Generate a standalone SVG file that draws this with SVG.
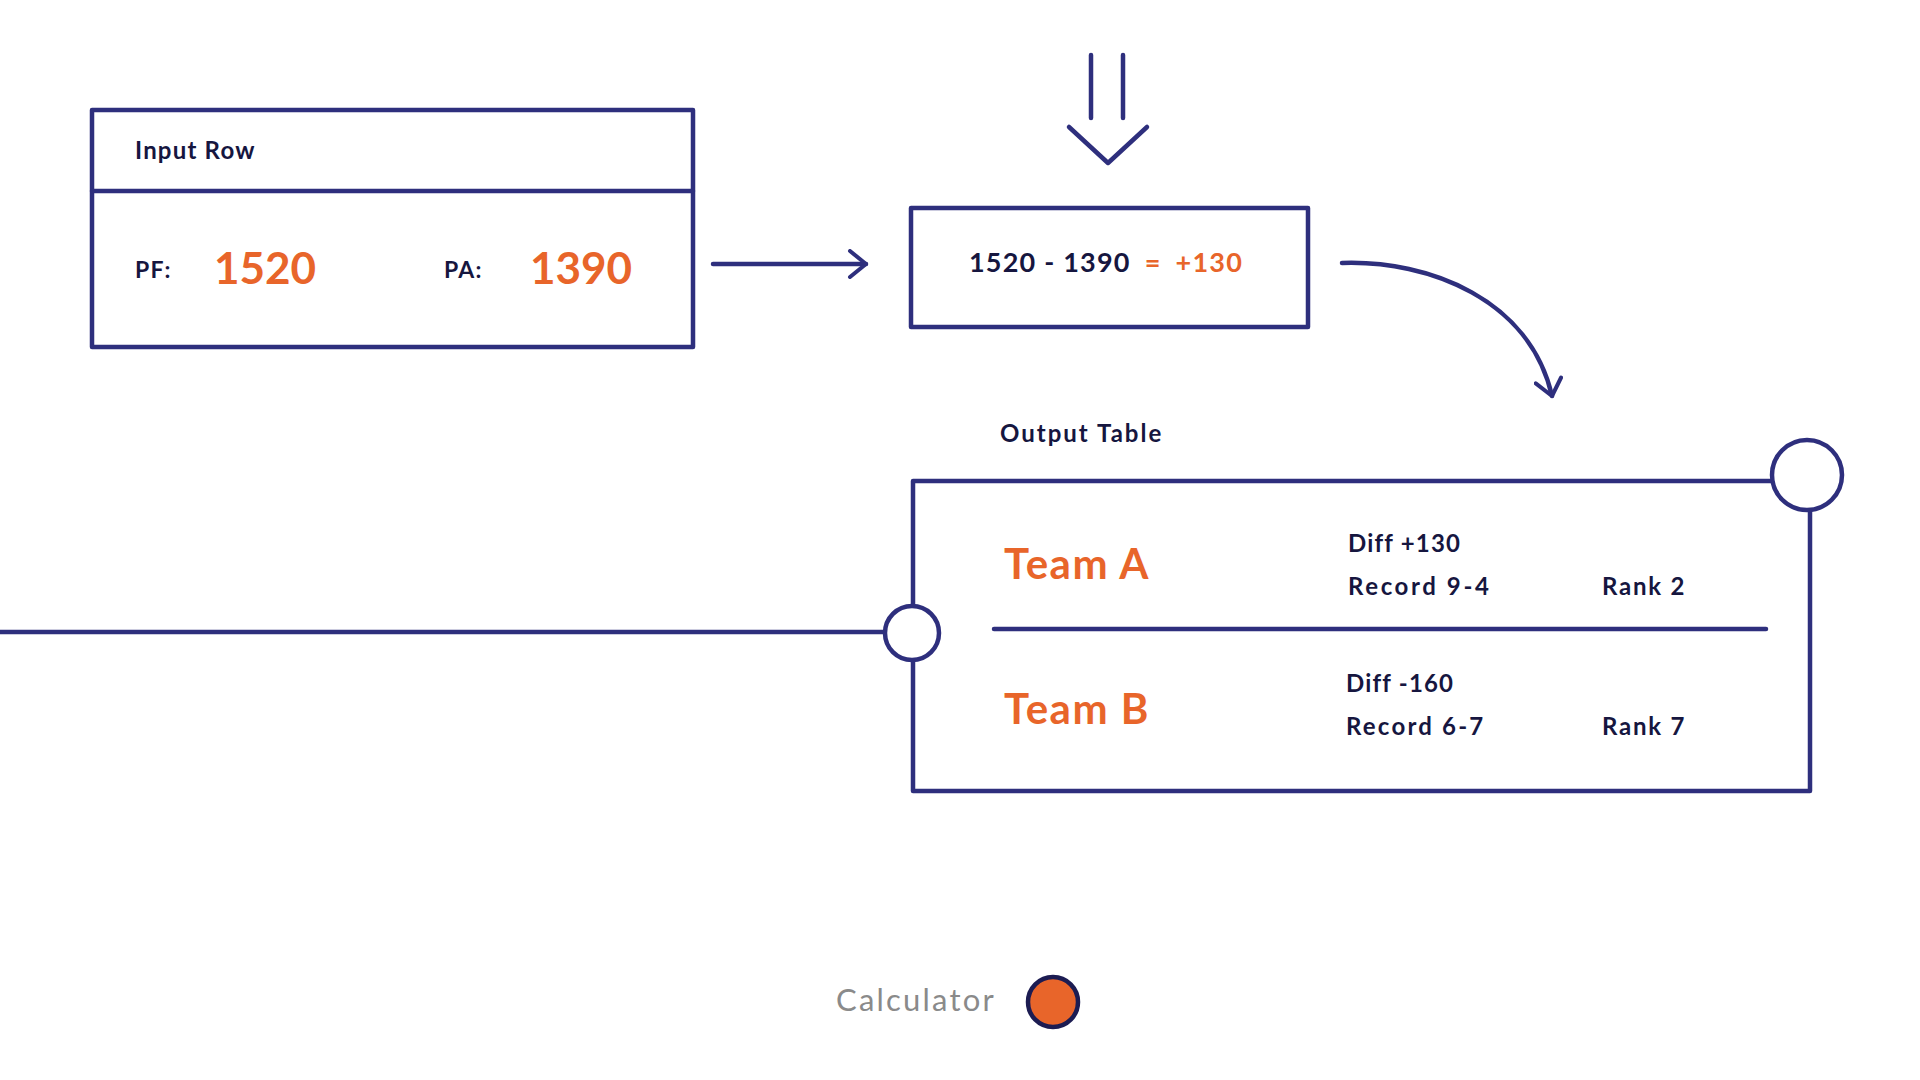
<svg xmlns="http://www.w3.org/2000/svg" width="1920" height="1080" viewBox="0 0 1920 1080">
<style>
.box{fill:none;stroke:#2e2f7d;stroke-width:4.5;stroke-linejoin:round}
.ln{fill:none;stroke:#2e2f7d;stroke-width:4.5;stroke-linecap:round;stroke-linejoin:round}
.t{font-family:Lato,"Noto Sans",sans-serif;font-weight:700;fill:#16163f;letter-spacing:1.2px}
.o{font-family:Lato,"Noto Sans",sans-serif;font-weight:700;fill:#e8652a;letter-spacing:1.5px}
</style>
<defs>
<marker id="chev" viewBox="0 0 24 30" refX="20" refY="15" markerWidth="24" markerHeight="30" markerUnits="userSpaceOnUse" orient="auto">
<path d="M4 2 L20 15 L4 28" fill="none" stroke="#2e2f7d" stroke-width="4" stroke-linecap="round" stroke-linejoin="round"/>
</marker>
</defs>
<rect width="1920" height="1080" fill="#ffffff"/>

<g id="input-row">
<rect class="box" x="92" y="110" width="601" height="237"/>
<line class="ln" x1="92" y1="191" x2="693" y2="191"/>
<text class="t" x="135" y="159" font-size="24">Input Row</text>
<text class="t" x="135" y="278" font-size="23">PF:</text>
<text class="o" x="214" y="284" font-size="44" style="letter-spacing:0">1520</text>
<text class="t" x="444" y="278" font-size="23">PA:</text>
<text class="o" x="530" y="284" font-size="44" style="letter-spacing:0">1390</text>
</g>

<g id="calc-box">
<rect class="box" x="911" y="208" width="397" height="119"/>
<text x="1106" y="272" font-size="27" text-anchor="middle" font-family="Lato,'Noto Sans',sans-serif" font-weight="700" letter-spacing="1.2"><tspan fill="#16163f">1520 - 1390</tspan><tspan fill="#e8652a" dx="14">=</tspan><tspan fill="#e8652a" dx="14">+130</tspan></text>
</g>

<g id="output-table">
<text class="t" x="1000" y="442" font-size="24" style="letter-spacing:2px">Output Table</text>
<rect class="box" x="913" y="481" width="897" height="310"/>
<line class="ln" x1="994" y1="629" x2="1766" y2="629"/>
<text class="o" x="1004" y="579" font-size="42">Team A</text>
<text class="t" x="1348" y="552" font-size="24">Diff +130</text>
<text class="t" x="1348" y="595" font-size="24" style="letter-spacing:2.6px">Record 9-4</text>
<text class="t" x="1602" y="595" font-size="24" style="letter-spacing:1.8px">Rank 2</text>
<text class="o" x="1004" y="724" font-size="42">Team B</text>
<text class="t" x="1346" y="692" font-size="24">Diff -160</text>
<text class="t" x="1346" y="735" font-size="24" style="letter-spacing:2.2px">Record 6-7</text>
<text class="t" x="1602" y="735" font-size="24" style="letter-spacing:1.8px">Rank 7</text>
<circle cx="1807" cy="475" r="35" fill="#ffffff" stroke="#2e2f7d" stroke-width="4.5"/>
</g>

<g id="connectors">
<line class="ln" x1="713" y1="264" x2="866" y2="264" marker-end="url(#chev)"/>
<line class="ln" x1="1091" y1="55" x2="1091" y2="118"/>
<line class="ln" x1="1123" y1="55" x2="1123" y2="118"/>
<polyline class="ln" points="1069,127 1108,163 1147,127"/>
<path class="ln" d="M1342 263 C1430 260 1530 300 1552 396" marker-end="url(#chev)"/>
<line class="ln" x1="0" y1="632" x2="885" y2="632"/>
<circle cx="912" cy="633" r="27" fill="#ffffff" stroke="#2e2f7d" stroke-width="4.5"/>
</g>

<g id="calculator">
<text x="836" y="1011" font-size="31" font-family="Lato,'Noto Sans',sans-serif" fill="#8a8a8a" letter-spacing="2.2">Calculator</text>
<circle cx="1053" cy="1002" r="25" fill="#e8652a" stroke="#1c1c52" stroke-width="4.5"/>
</g>
</svg>
